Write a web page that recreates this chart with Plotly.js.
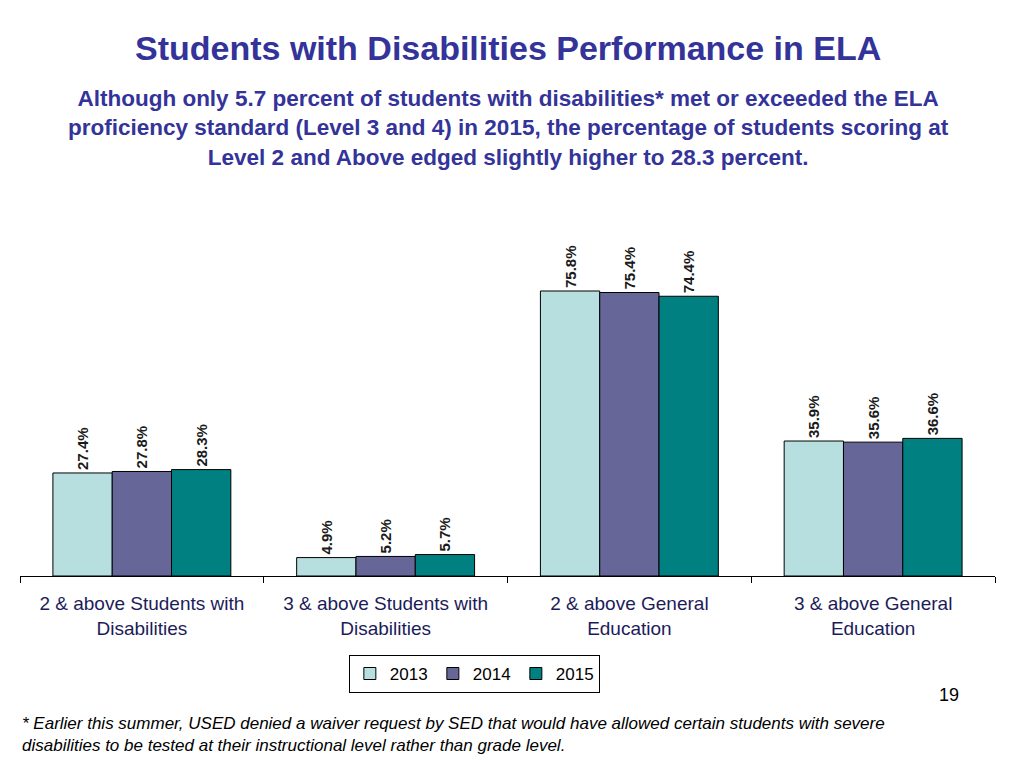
<!DOCTYPE html>
<html>
<head>
<meta charset="utf-8">
<script src="https://cdn.plot.ly/plotly-3.0.1.min.js"></script>
<style>html,body{margin:0;padding:0;background:#fff;}#chart{width:1024px;height:768px;}</style>
</head>
<body>
<div id="chart"></div>
<script>
const categories = ["2 & above Students with<br>Disabilities", "3 & above Students with<br>Disabilities", "2 & above General<br>Education", "3 & above General<br>Education"];
const years = ["2013", "2014", "2015"];
const values2013 = [27.4, 4.9, 75.8, 35.9];
const values2014 = [27.8, 5.2, 75.4, 35.6];
const values2015 = [28.3, 5.7, 74.4, 36.6];
const colors = ["#B8DFE0", "#666699", "#008080"];

const series = [values2013, values2014, values2015];
const FONT = "Arial, 'Liberation Sans', sans-serif";

const traces = series.map((vals, i) => ({
  type: "bar",
  name: years[i],
  x: categories,
  y: vals,
  text: vals.map(v => v.toFixed(1) + "%"),
  textposition: "outside",
  textangle: -90,
  textfont: {family: FONT, size: 15, color: "#1a1a1a", weight: "bold"},
  cliponaxis: false,
  marker: {color: colors[i], line: {color: "#000", width: 1}},
  hoverinfo: "x+y"
}));

const titleColor = "#333399";

const layout = {
  width: 1024, height: 768,
  paper_bgcolor: "#fff", plot_bgcolor: "#fff",
  margin: {l: 20, r: 29, t: 200, b: 192},
  barmode: "group",
  bargap: 0.27,
  bargroupgap: 0,
  font: {family: FONT, color: "#000"},
  showlegend: true,
  legend: {
    orientation: "h",
    x: 0.466, xanchor: "center",
    y: -0.21, yanchor: "top",
    bordercolor: "#000", borderwidth: 1,
    font: {family: FONT, size: 17, color: "#000"},
    itemwidth: 30,
    entrywidth: 38,
    entrywidthmode: "pixels",
    traceorder: "normal"
  },
  xaxis: {
    type: "category",
    range: [-0.5, 3.5],
    showline: true, linecolor: "#000", linewidth: 1,
    ticks: "outside", tickson: "boundaries", ticklen: 6, tickcolor: "#000",
    ticklabelstandoff: 10,
    tickfont: {family: FONT, size: 19, color: "#1c1c5a"},
    showgrid: false, zeroline: false, fixedrange: true
  },
  yaxis: {
    range: [0, 100],
    visible: false,
    showgrid: false, zeroline: false, fixedrange: true
  },
  annotations: [
    {text: "<b>Students with Disabilities Performance in ELA</b>", xref: "paper", yref: "paper",
     x: (508 - 20) / 975, y: (576 - 48) / 376, xanchor: "center", yanchor: "middle", showarrow: false,
     font: {family: FONT, size: 34, color: titleColor}},
    {text: "<b>Although only 5.7 percent of students with disabilities* met or exceeded the ELA<br>proficiency standard (Level 3 and 4) in 2015, the percentage of students scoring at<br>Level 2 and Above edged slightly higher to 28.3 percent.</b>",
     xref: "paper", yref: "paper",
     x: (508 - 20) / 975, y: (576 - 128) / 376, xanchor: "center", yanchor: "middle", showarrow: false,
     align: "center",
     font: {family: FONT, size: 22.5, color: titleColor}},
    {text: "19", xref: "paper", yref: "paper",
     x: (961 - 20) / 975, y: (576 - 695) / 376, xanchor: "right", yanchor: "middle", showarrow: false,
     font: {family: FONT, size: 18, color: "#000"}},
    {text: "<i>* Earlier this summer, USED denied a waiver request by SED that would have allowed certain students with severe<br>disabilities to be tested at their instructional level rather than grade level.</i>",
     xref: "paper", yref: "paper",
     x: 0, y: (576 - 734) / 376, xanchor: "left", yanchor: "middle", showarrow: false,
     align: "left",
     font: {family: FONT, size: 17, color: "#000"}}
  ]
};

Plotly.newPlot("chart", traces, layout, {displayModeBar: false, staticPlot: true});
</script>
</body>
</html>
